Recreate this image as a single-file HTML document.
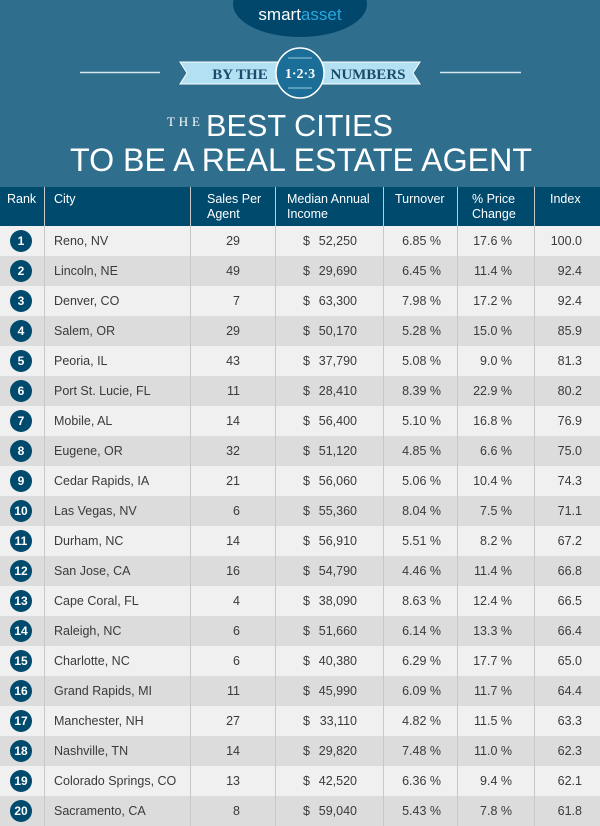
<!DOCTYPE html>
<html><head><meta charset="utf-8"><style>
body{margin:0;width:600px;height:826px;overflow:hidden;background:#2f6f8d;font-family:"Liberation Sans",sans-serif}
svg{position:absolute;left:0;top:0}
.hd{position:absolute;top:187px;height:39px;background:#004a6e;color:#fff;font-size:12.5px;line-height:15px}
.row{position:absolute;left:0;width:600px;height:30px;font-size:12.5px;color:#3a3a3a;line-height:30px}
.c{position:absolute;top:0;height:100%;box-sizing:border-box}
</style></head><body>
<svg width="600" height="187">
<ellipse cx="300" cy="4" rx="67" ry="33" fill="#00476b"/>
<text x="300" y="20" fill="#fff" font-size="17" text-anchor="middle" font-family="Liberation Sans">smart<tspan fill="#2aa8e0">asset</tspan></text>
<line x1="80" y1="72.5" x2="160" y2="72.5" stroke="#d8e8ef" stroke-width="1.5"/>
<line x1="440" y1="72.5" x2="521" y2="72.5" stroke="#d8e8ef" stroke-width="1.5"/>
<polygon points="180,62 420,62 413,73 420,84 180,84 187,73" fill="#b3e0f2" stroke="#fff" stroke-width="1"/>
<text x="240" y="79" fill="#1b4a6a" font-size="15" font-weight="bold" text-anchor="middle" font-family="Liberation Serif">BY THE</text>
<text x="368" y="79" fill="#1b4a6a" font-size="15" font-weight="bold" text-anchor="middle" font-family="Liberation Serif">NUMBERS</text>
<ellipse cx="300" cy="73" rx="24" ry="25" fill="#1a6e98" stroke="#fff" stroke-width="1.5"/>
<line x1="288" y1="58" x2="312" y2="58" stroke="#9cc9de"/><line x1="288" y1="88" x2="312" y2="88" stroke="#9cc9de"/>
<text x="300" y="78" fill="#fff" font-size="14" font-weight="bold" text-anchor="middle" font-family="Liberation Serif">1·2·3</text>
<text x="167" y="126" fill="#fff" font-size="13" font-family="Liberation Serif" textLength="33">THE</text>
<text x="206" y="136" fill="#fff" font-size="31" textLength="187" lengthAdjust="spacingAndGlyphs">BEST CITIES</text>
<text x="70" y="171" fill="#fff" font-size="32" textLength="462" lengthAdjust="spacingAndGlyphs">TO BE A REAL ESTATE AGENT</text>
</svg>
<div class="hd" style="left:0;width:600px"></div>
<div id="t"></div>
<script>
var cols=[0,44,190,275,383,457,534,600];
var hs=[["Rank",""],["City",""],["Sales Per","Agent"],["Median Annual","Income"],["Turnover",""],["% Price","Change"],["Index",""]];
var hx=[7,54,207,287,395,472,550];
var html='';
for(var i=0;i<7;i++){html+='<div class="hd" style="left:'+hx[i]+'px;top:192px;height:auto;background:none">'+hs[i][0]+'<br>'+hs[i][1]+'</div>';}
for(var i=1;i<7;i++){html+='<div style="position:absolute;left:'+cols[i]+'px;top:187px;width:1px;height:639px;background:#c8c8c8"></div>';}
var d=[["Reno, NV",29,"52,250","6.85","17.6","100.0"],["Lincoln, NE",49,"29,690","6.45","11.4","92.4"],["Denver, CO",7,"63,300","7.98","17.2","92.4"],["Salem, OR",29,"50,170","5.28","15.0","85.9"],["Peoria, IL",43,"37,790","5.08","9.0","81.3"],["Port St. Lucie, FL",11,"28,410","8.39","22.9","80.2"],["Mobile, AL",14,"56,400","5.10","16.8","76.9"],["Eugene, OR",32,"51,120","4.85","6.6","75.0"],["Cedar Rapids, IA",21,"56,060","5.06","10.4","74.3"],["Las Vegas, NV",6,"55,360","8.04","7.5","71.1"],["Durham, NC",14,"56,910","5.51","8.2","67.2"],["San Jose, CA",16,"54,790","4.46","11.4","66.8"],["Cape Coral, FL",4,"38,090","8.63","12.4","66.5"],["Raleigh, NC",6,"51,660","6.14","13.3","66.4"],["Charlotte, NC",6,"40,380","6.29","17.7","65.0"],["Grand Rapids, MI",11,"45,990","6.09","11.7","64.4"],["Manchester, NH",27,"33,110","4.82","11.5","63.3"],["Nashville, TN",14,"29,820","7.48","11.0","62.3"],["Colorado Springs, CO",13,"42,520","6.36","9.4","62.1"],["Sacramento, CA",8,"59,040","5.43","7.8","61.8"]];
var rows='';
d.forEach(function(r,k){
var top=226+30*k;
rows+='<div class="row" style="top:'+top+'px;background:'+(k%2?'#dcdcdc':'#f0f0f0')+'">'+
'<div class="c" style="left:10px;top:4px;width:22px;height:22px;border-radius:50%;background:#004a6e;color:#fff;font-weight:bold;text-align:center;line-height:22px;font-size:12px">'+(k+1)+'</div>'+
'<div class="c" style="left:54px">'+r[0]+'</div>'+
'<div class="c" style="left:190px;width:50px;text-align:right">'+r[1]+'</div>'+
'<div class="c" style="left:303px">$</div>'+
'<div class="c" style="left:300px;width:57px;text-align:right">'+r[2]+'</div>'+
'<div class="c" style="left:383px;width:58px;text-align:right">'+r[3]+' %</div>'+
'<div class="c" style="left:457px;width:55px;text-align:right">'+r[4]+' %</div>'+
'<div class="c" style="left:534px;width:48px;text-align:right">'+r[5]+'</div></div>';
});
document.getElementById('t').innerHTML=rows+html;
</script>
</body></html>
